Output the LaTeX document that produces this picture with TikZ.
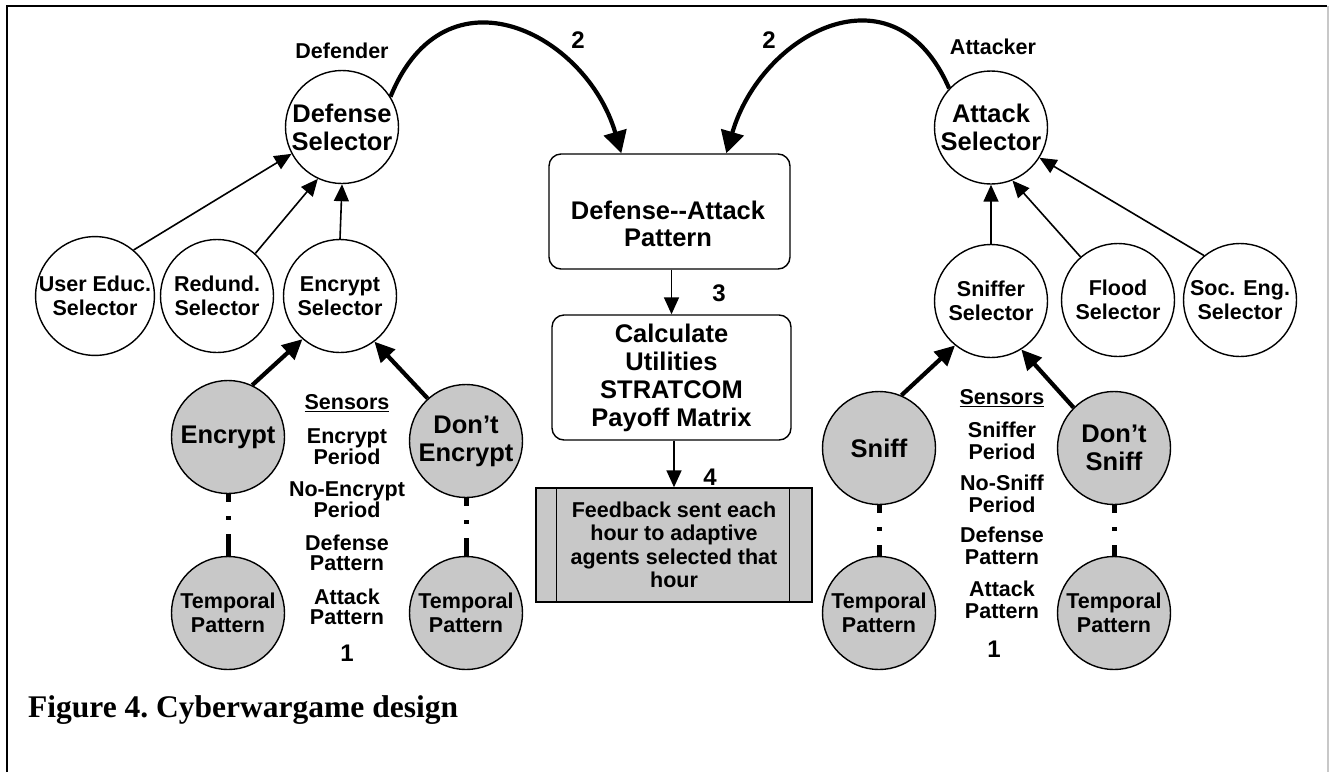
\documentclass[tikz,border=0pt]{standalone}
\usepackage{fontspec}
\setmainfont{Liberation Sans}
\newfontfamily\capfont{Liberation Serif}
\usetikzlibrary{arrows.meta,calc}
\definecolor{nodegrey}{RGB}{200,200,200}
\definecolor{framegrey}{RGB}{200,200,200}
\begin{document}
\begin{tikzpicture}[x=1pt,y=-1pt,
 circ/.style={circle, draw, line width=1.4pt, minimum size=113pt, inner sep=0pt, align=center},
 fbig/.style={font=\fontsize{25.5}{28}\selectfont\bfseries},
 fsmall/.style={font=\fontsize{21.5}{23.5}\selectfont\bfseries},
 sel/.style={circ, fsmall, fill=white},
 topsel/.style={circ, fbig, fill=white},
 act/.style={circ, fbig, fill=nodegrey},
 temp/.style={circ, fsmall, fill=nodegrey},
 sensl/.style={align=center, inner sep=0pt, font=\fontsize{21.5}{20}\selectfont\bfseries},
 sensr/.style={align=center, inner sep=0pt, font=\fontsize{21.5}{22}\selectfont\bfseries},
 num/.style={inner sep=0pt, font=\fontsize{24}{24}\selectfont\bfseries},
 role/.style={inner sep=0pt, font=\fontsize{21.5}{23.5}\selectfont\bfseries},
 box/.style={draw, rounded corners=12pt, line width=1.4pt, inner sep=0pt, align=center},
 thinarr/.style={-{Triangle[length=17pt,width=15pt]}, line width=1.6pt},
 thickarr/.style={-{Triangle[length=20pt,width=19pt]}, line width=4.2pt},
 curvearr/.style={-{Triangle[length=22pt,width=23pt]}, line width=4.2pt},
 dashline/.style={line width=5pt, dash pattern=on 8pt off 14pt on 4pt off 14pt on 30pt},
]
\useasboundingbox (0,0) rectangle (1329,772);
% frame
\draw[line width=2pt] (7,772) -- (7,6) -- (1327,6);
\draw[framegrey, line width=1.5pt] (1328,6) -- (1328,772);

% defender side
\node[role] (defender) at (342,51) {Defender};
\node[topsel] (ds) at (342,127) {Defense\\Selector};
\node[sel] (ue) at (95,296) {User Educ.\\Selector};
\node[sel] (rd) at (217,296) {Redund.\\Selector};
\node[sel] (es) at (340,296) {Encrypt\\Selector};
\node[act] (enc) at (228,437) {Encrypt};
\node[act] (denc) at (466,441) {Don’t\\Encrypt};
\node[temp] (t1) at (228,613) {Temporal\\Pattern};
\node[temp] (t2) at (466,613) {Temporal\\Pattern};

\node[sensl] (sl0) at (347,403) {\underline{Sensors}};
\node[sensl] (sl1) at (347,447) {Encrypt\\Period};
\node[sensl] (sl2) at (347,500) {No-Encrypt\\Period};
\node[sensl] (sl3) at (347,553) {Defense\\Pattern};
\node[sensl] (sl4) at (347,607) {Attack\\Pattern};
\node[num] (n1l) at (347,653) {1};

\draw[thinarr] (ue.50) -- (ds.208);
\draw[thinarr] (rd.48) -- (ds.245);
\draw[thinarr] (es.north) -- (ds.south);
\draw[thickarr] (enc.65) -- (es.229);
\draw[thickarr] (denc.132) -- (es.307);
\draw[dashline] (enc.south) -- (t1.north);
\draw[dashline] (denc.south) -- (t2.north);

% attacker side
\node[role] (attacker) at (993,47) {Attacker};
\node[topsel] (as) at (991,127.5) {Attack\\Selector};
\node[sel] (sn) at (991,301) {Sniffer\\Selector};
\node[sel] (fl) at (1118,300) {Flood\\Selector};
\node[sel] (se) at (1240,300) {Soc. Eng.\\Selector};
\node[act] (sniff) at (879,448) {Sniff};
\node[act] (dsniff) at (1114,448) {Don’t\\Sniff};
\node[temp] (t3) at (879,613) {Temporal\\Pattern};
\node[temp] (t4) at (1114,613) {Temporal\\Pattern};

\node[sensr] (sr0) at (1002,398) {\underline{Sensors}};
\node[sensr] (sr1) at (1002,440.5) {Sniffer\\Period};
\node[sensr] (sr2) at (1002,493.5) {No-Sniff\\Period};
\node[sensr] (sr3) at (1002,546) {Defense\\Pattern};
\node[sensr] (sr4) at (1002,600) {Attack\\Pattern};
\node[num] (n1r) at (994,649) {1};

\draw[thinarr] (sn.north) -- (as.south);
\draw[thinarr] (fl.131) -- (as.292);
\draw[thinarr] (se.129) -- (as.328);
\draw[thickarr] (sniff.67) -- (sn.231);
\draw[thickarr] (dsniff.135) -- (sn.302);
\draw[dashline] (sniff.south) -- (t3.north);
\draw[dashline] (dsniff.south) -- (t4.north);

% middle
\node[box, minimum width=241pt, minimum height=115pt] (dap) at (669.5,211.5) {};
\node[inner sep=0pt, align=center, font=\fontsize{25.5}{27}\selectfont\bfseries] (dapt) at (668,224) {Defense-\kern0pt-Attack\\Pattern};
\node[box, fbig, minimum width=239pt, minimum height=125pt] (calc) at (671.5,377.5) {Calculate\\Utilities\\STRATCOM\\Payoff Matrix};
\node[draw, fill=nodegrey, line width=1.4pt, minimum width=276pt, minimum height=114pt, inner sep=0pt, align=center, font=\fontsize{21.5}{23.5}\selectfont\bfseries] (fb) at (674,545) {Feedback sent each\\hour to adaptive\\agents selected that\\hour};
\draw[line width=1.4pt] ([xshift=21pt]fb.north west) -- ([xshift=21pt]fb.south west);
\draw[line width=1.4pt] ([xshift=-23pt]fb.north east) -- ([xshift=-23pt]fb.south east);

\draw[curvearr] (ds.32) .. controls +(55,-135) and +(-35,-120) .. ($(dap.north west)+(73,0)$);
\draw[curvearr] (as.137) .. controls +(-55,-127) and +(35,-120) .. ($(dap.north west)+(178,0)$);
\draw[thinarr] (dap.south -| calc.north) -- (calc.north);
\draw[thinarr] (calc.south -| fb.north) -- (fb.north);

\node[num] (l2a) at (578,40) {2};
\node[num] (l2b) at (769,40) {2};
\node[num] (l3) at (719,293) {3};
\node[num] (l4) at (710,477) {4};

\node[anchor=base west, inner sep=0pt, font=\capfont\bfseries\fontsize{31.5}{31.5}\selectfont] (cap) at (28,717) {Figure 4.\ Cyberwargame design};
\end{tikzpicture}
\end{document}
